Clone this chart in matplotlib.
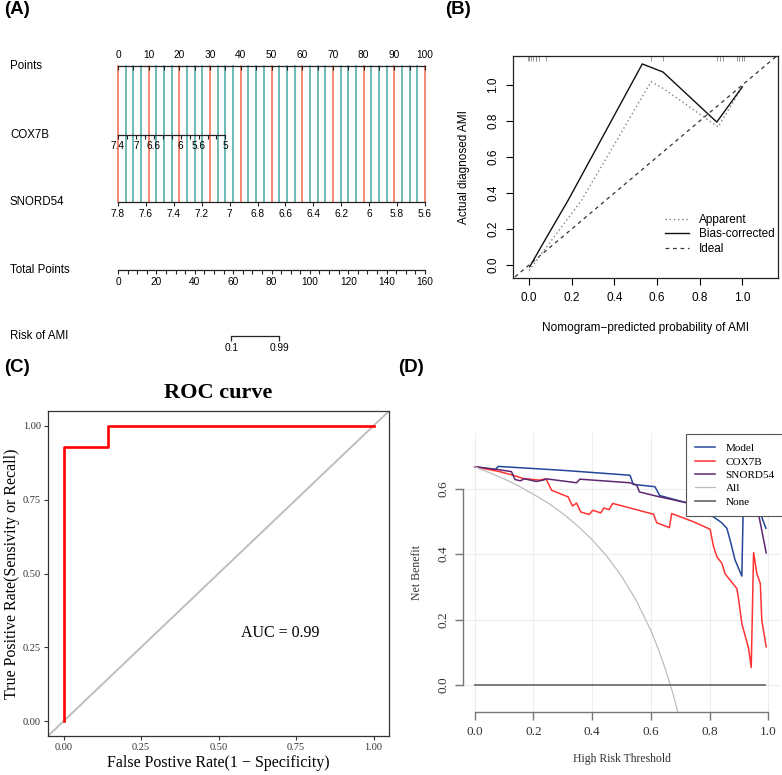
import matplotlib.pyplot as plt
import numpy as np

################################################################################
# (A) nomogram scales
points_ticks = np.arange(0, 101, 10)
points_minor = np.arange(0, 101, 5)
grid_step = 2.5
cox7b_ticks = np.round(np.arange(7.4, 4.99, -0.2), 1)
cox7b_labels = [7.4, 7.0, 6.6, 6.0, 5.6, 5.0]
cox7b_range = (7.4, 5.0)
cox7b_max_points = 35
snord54_ticks = np.round(np.arange(7.8, 5.59, -0.2), 1)
snord54_range = (7.8, 5.6)
total_ticks = np.arange(0, 161, 20)
total_minor = np.arange(0, 161, 5)
total_max = 160
risk_labels = ["0.1", "0.99"]
risk_total_points = [59, 84]
row_names = ["Points", "COX7B", "SNORD54", "Total Points", "Risk of AMI"]

# (B) calibration curve
apparent_x = [0.0, 0.247, 0.572, 0.63, 0.886, 1.0]
apparent_y = [-0.03, 0.361, 1.018, 0.98, 0.767, 0.99]
bias_x = [0.003, 0.075, 0.184, 0.531, 0.628, 0.88, 1.0]
bias_y = [-0.01, 0.139, 0.361, 1.117, 1.072, 0.794, 0.99]
rug_x = [-0.005, 0.0, 0.011, 0.02, 0.031, 0.034, 0.047, 0.078, 0.574, 0.629,
         0.879, 0.894, 0.91, 0.973, 0.986, 0.997, 1.008]
calib_ticks = [0.0, 0.2, 0.4, 0.6, 0.8, 1.0]

# (C) ROC curve
roc_fpr = [0.0, 0.0, 0.143, 0.143, 1.0]
roc_tpr = [0.0, 0.929, 0.929, 1.0, 1.0]
roc_ticks = [0.0, 0.25, 0.5, 0.75, 1.0]
auc_text = "AUC = 0.99"

# (D) decision curve
model_x = [0, 0.07, 0.08, 0.3, 0.529, 0.54, 0.614, 0.63, 0.722, 0.77, 0.808,
           0.84, 0.859, 0.87, 0.887, 0.91, 0.916, 0.93, 0.96, 0.973, 0.992]
model_y = [0.667, 0.658, 0.668, 0.656, 0.641, 0.613, 0.606, 0.579, 0.557, 0.54,
           0.517, 0.497, 0.479, 0.443, 0.382, 0.333, 0.6, 0.62, 0.58, 0.525, 0.479]
cox7b_x = [0, 0.085, 0.131, 0.165, 0.222, 0.239, 0.245, 0.262, 0.318, 0.333,
           0.347, 0.361, 0.39, 0.402, 0.429, 0.44, 0.458, 0.47, 0.609, 0.62,
           0.663, 0.671, 0.745, 0.802, 0.813, 0.825, 0.842, 0.853, 0.893, 0.899,
           0.91, 0.933, 0.942, 0.95, 0.961, 0.973, 0.978, 0.993]
cox7b_y = [0.667, 0.652, 0.641, 0.631, 0.626, 0.63, 0.626, 0.595, 0.575, 0.547,
           0.556, 0.529, 0.521, 0.534, 0.526, 0.541, 0.536, 0.555, 0.522, 0.496,
           0.481, 0.524, 0.499, 0.476, 0.425, 0.392, 0.372, 0.34, 0.295, 0.262,
           0.188, 0.112, 0.054, 0.405, 0.341, 0.31, 0.198, 0.117]
snord54_x = [0, 0.074, 0.125, 0.137, 0.155, 0.17, 0.21, 0.233, 0.244, 0.347,
             0.358, 0.529, 0.552, 0.561, 0.62, 0.722, 0.8, 0.88, 0.93, 0.967, 0.993]
snord54_y = [0.667, 0.659, 0.652, 0.628, 0.624, 0.63, 0.622, 0.626, 0.63, 0.618,
             0.629, 0.618, 0.611, 0.59, 0.577, 0.557, 0.54, 0.53, 0.56, 0.522, 0.404]
all_x = [0, 0.05, 0.1, 0.15, 0.2, 0.25, 0.3, 0.35, 0.4, 0.45, 0.5, 0.55, 0.6,
         0.625, 0.65, 0.675, 0.695]
all_y = [0.667, 0.649, 0.63, 0.608, 0.583, 0.556, 0.524, 0.487, 0.444, 0.394,
         0.333, 0.259, 0.167, 0.111, 0.048, -0.025, -0.092]
none_x = [0, 0.99]
none_y = [0, 0]
dca_xticks = [0.0, 0.2, 0.4, 0.6, 0.8, 1.0]
dca_yticks = [0.0, 0.2, 0.4, 0.6]

################################################################################
W, H = 782, 775
fig = plt.figure(figsize=(W / 100, H / 100), dpi=100)
SANS = "Liberation Sans"
SERIF = "Liberation Serif"


def px_axes(x0, y0, x1, y1):
    return fig.add_axes([x0 / W, 1 - y1 / H, (x1 - x0) / W, (y1 - y0) / H])


# panel letters
for lab, (x, y) in zip(["(A)", "(B)", "(C)", "(D)"],
                       [(4, 10), (445, 10), (4, 368), (398, 368)]):
    fig.text(x / W, 1 - y / H, lab, fontsize=13.5, fontweight="bold",
             family=SANS, va="center", ha="left")

################################################################################
# (A) Nomogram
ax = px_axes(0, 0, 440, 360)
ax.set_xlim(-118 / 3.07, (440 - 118) / 3.07)
ax.set_ylim(360, 0)
ax.set_axis_off()
rows_y = [66, 135, 202, 270, 336]
tick_len = 3.5
red, teal = "#F4694E", "#45A7A2"

for p in np.arange(0, 100 + 0.1, grid_step):
    col = red if p % 10 == 0 else teal
    ax.plot([p, p], [rows_y[0], rows_y[2]], color=col, lw=1.1, zorder=1)

for name, y in zip(row_names, rows_y):
    ax.text(-35.2, y, name, fontsize=8.3, family=SANS, va="center", ha="left")

# Points
y = rows_y[0]
ax.plot([0, 100], [y, y], color="#222222", lw=0.9, zorder=3)
ax.vlines(points_minor, y, y + tick_len, color="#222222", lw=0.8, zorder=3)
for p in points_ticks:
    ax.text(p, y - 11, str(p), fontsize=7.3, family=SANS, ha="center", va="center")

# COX7B
y = rows_y[1]
cox_pts = lambda v: (cox7b_range[0] - v) / (cox7b_range[0] - cox7b_range[1]) * cox7b_max_points
ax.plot([cox_pts(cox7b_range[0]), cox_pts(cox7b_range[1])], [y, y],
        color="#222222", lw=0.9, zorder=3)
ax.vlines([cox_pts(v) for v in cox7b_ticks], y, y + tick_len, color="#222222",
          lw=0.8, zorder=3)
for v in cox7b_labels:
    ax.text(cox_pts(v), y + 11, "%g" % v, fontsize=7.3, family=SANS,
            ha="center", va="center", zorder=4)

# SNORD54
y = rows_y[2]
snord_pts = lambda v: (snord54_range[0] - v) / (snord54_range[0] - snord54_range[1]) * 100
ax.plot([0, 100], [y, y], color="#222222", lw=0.9, zorder=3)
ax.vlines([snord_pts(v) for v in snord54_ticks], y, y + tick_len,
          color="#222222", lw=0.8, zorder=3)
for v in snord54_ticks:
    ax.text(snord_pts(v), y + 12, "%g" % v, fontsize=7.3, family=SANS,
            ha="center", va="center")

# Total Points
y = rows_y[3]
tot_pts = lambda t: t / total_max * 100
ax.plot([0, 100], [y, y], color="#222222", lw=0.9)
ax.vlines([tot_pts(t) for t in total_minor], y, y + tick_len, color="#222222", lw=0.8)
for t in total_ticks:
    ax.text(tot_pts(t), y + 12, str(t), fontsize=7.3, family=SANS,
            ha="center", va="center")

# Risk of AMI
y = rows_y[4]
rx = [tot_pts(t) for t in risk_total_points]
ax.plot(rx, [y, y], color="#222222", lw=0.9)
ax.vlines(rx, y, y + 5, color="#222222", lw=0.9)
for x, lab in zip(rx, risk_labels):
    ax.text(x, y + 12, lab, fontsize=7.3, family=SANS, ha="center", va="center")

################################################################################
# (B) Calibration
ax = px_axes(513, 56, 778, 278)
ax.plot([-0.2, 1.3], [-0.2, 1.3], color="#333333", lw=0.9, ls=(0, (3, 3)),
        label="Ideal")
ax.plot(apparent_x, apparent_y, color="#808080", lw=1.0, ls=(0, (1, 2)),
        label="Apparent")
ax.plot(bias_x, bias_y, color="#111111", lw=1.0, label="Bias-corrected")
ax.vlines(rug_x, 1.161 - 0.03, 1.161, color="#888888", lw=0.6)
ax.set_xlim(-0.075, 1.167)
ax.set_ylim(-0.072, 1.161)
ax.set_xticks(calib_ticks)
ax.set_yticks(calib_ticks)
ax.set_xticklabels(["%.1f" % v for v in calib_ticks], fontsize=8.5, family=SANS)
ax.set_yticklabels(["%.1f" % v for v in calib_ticks], rotation=90, va="center",
                   fontsize=8.5, family=SANS)
ax.tick_params(direction="out", length=5, width=0.8, pad=5)
for s in ax.spines.values():
    s.set_linewidth(0.9)
    s.set_color("#222222")
ax.set_xlabel("Nomogram\u2212predicted probability of AMI", fontsize=8.5, family=SANS)
ax.xaxis.set_label_coords(0.5, -(328 - 278) / 222)
ax.xaxis.label.set_va("center")
ax.set_ylabel("Actual diagnosed AMI", fontsize=8.5, family=SANS)
ax.yaxis.set_label_coords(-(513 - 464) / 265, 0.5)
ax.yaxis.label.set_va("center")
h, l = ax.get_legend_handles_labels()
order = [1, 2, 0]
ax.legend([h[i] for i in order], [l[i] for i in order], frameon=False,
          loc="upper left", bbox_to_anchor=((665 - 513) / 265, (278 - 214) / 222),
          prop={"family": SANS, "size": 8.5}, handlelength=2.0,
          handletextpad=0.9, labelspacing=0.2, borderpad=0, borderaxespad=0)

################################################################################
# (C) ROC
ax = px_axes(48, 411, 389, 736)
ax.plot([-0.1, 1.1], [-0.1, 1.1], color="#BEBEBE", lw=1.4)
ax.plot(roc_fpr, roc_tpr, color="#FF0000", lw=1.9)
ax.set_xlim(-0.05, 1.05)
ax.set_ylim(-0.05, 1.05)
ax.set_xticks(roc_ticks)
ax.set_yticks(roc_ticks)
ax.set_xticklabels(["%.2f" % v for v in roc_ticks], fontsize=7.5, family=SERIF)
ax.set_yticklabels(["%.2f" % v for v in roc_ticks], fontsize=7.5, family=SERIF)
ax.tick_params(direction="out", length=3, width=0.8, pad=2,
               color="#333333", labelcolor="#333333")
for s in ax.spines.values():
    s.set_linewidth(0.9)
    s.set_color("#333333")
ax.text(0.5, 1 + (411 - 393) / 325, "ROC curve", transform=ax.transAxes,
        fontsize=16, fontweight="bold", family=SERIF, ha="center", va="center")
ax.text(0.699, 0.30, auc_text, fontsize=11.5, family=SERIF, ha="center", va="center")
ax.set_xlabel("False Postive Rate(1 \u2212 Specificity)", fontsize=11.5, family=SERIF)
ax.xaxis.set_label_coords(0.5, -(763 - 736) / 325)
ax.xaxis.label.set_va("center")
ax.set_ylabel("True Positive Rate(Sensivity or Recall)", fontsize=11.5, family=SERIF)
ax.yaxis.set_label_coords(-(48 - 12) / 341, 0.5)
ax.yaxis.label.set_va("center")

################################################################################
# (D) Decision curve
ax = px_axes(463, 433, 780, 712)
ax.set_xlim(-0.04, 1.04)
ax.set_ylim(-0.082, 0.77)
ax.grid(color="#EDEDED", lw=0.8)
ax.set_axisbelow(True)
ax.plot(model_x, model_y, color="#24479A", lw=1.1, label="Model")
ax.plot(cox7b_x, cox7b_y, color="#FF3333", lw=1.1, label="COX7B")
ax.plot(snord54_x, snord54_y, color="#5E2770", lw=1.1, label="SNORD54")
ax.plot(all_x, all_y, color="#BDBDBD", lw=0.9, label="All")
ax.plot(none_x, none_y, color="#707070", lw=1.3, label="None")
ax.set_xticks(dca_xticks)
ax.set_yticks(dca_yticks)
ax.set_xticklabels(["%.1f" % v for v in dca_xticks], fontsize=9.5, family=SERIF)
ax.set_yticklabels(["%.1f" % v for v in dca_yticks], rotation=90, va="center",
                   fontsize=9.5, family=SERIF)
ax.tick_params(direction="out", length=6, width=1.0, pad=4,
               color="#777777", labelcolor="#333333")
ax.spines["top"].set_visible(False)
ax.spines["right"].set_visible(False)
ax.spines["left"].set_bounds(0, 0.6)
ax.spines["bottom"].set_bounds(0, 1.0)
for s in ("left", "bottom"):
    ax.spines[s].set_color("#777777")
    ax.spines[s].set_linewidth(1.0)
ax.set_xlabel("High Risk Threshold", fontsize=8.5, family=SERIF, color="#333333")
ax.xaxis.set_label_coords(0.5, -(759 - 712) / 279)
ax.xaxis.label.set_va("center")
ax.set_ylabel("Net Benefit", fontsize=8.5, family=SERIF, color="#333333")
ax.yaxis.set_label_coords(-(463 - 417) / 317, 0.5)
ax.yaxis.label.set_va("center")
leg = ax.legend(loc="upper left", bbox_to_anchor=((686 - 463) / 317, (712 - 434) / 279),
                prop={"family": SERIF, "size": 8}, fancybox=False, framealpha=1,
                edgecolor="#555555", handlelength=1.8, handletextpad=0.9,
                labelspacing=0.32, borderpad=0.85, borderaxespad=0)
leg.get_frame().set_linewidth(0.8)
leg.set_zorder(5)

fig.savefig("out.png", dpi=100)
